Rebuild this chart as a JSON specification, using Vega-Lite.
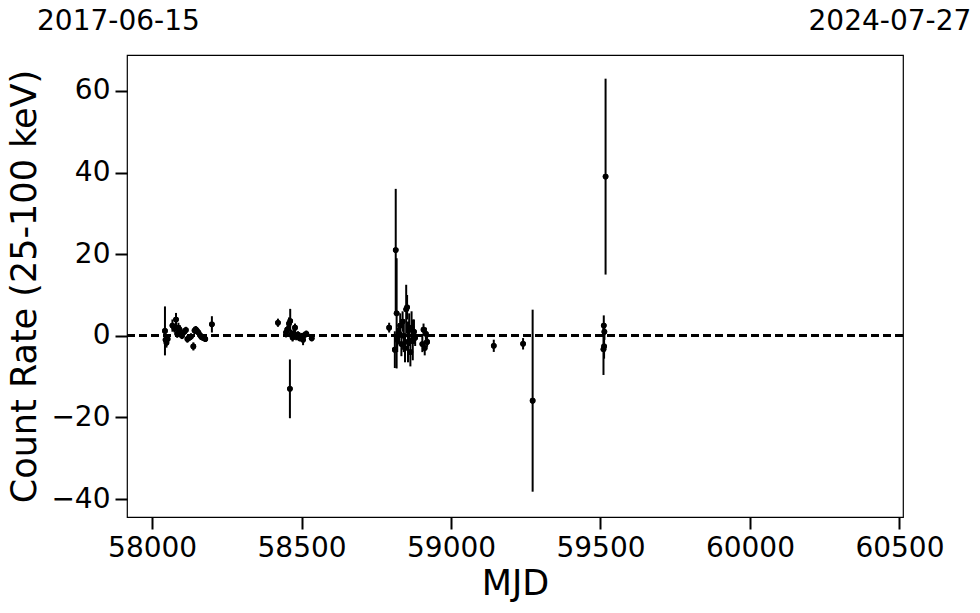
{
  "$schema": "https://vega.github.io/schema/vega-lite/v6.json",
  "width": 776,
  "height": 462,
  "autosize": {"type": "none"},
  "padding": {"left": 127, "top": 55, "right": 77, "bottom": 96},
  "background": "white",
  "config": {
    "font": "DejaVu Sans",
    "view": {"stroke": "black", "strokeWidth": 1.2},
    "axis": {
      "labelFont": "DejaVu Sans",
      "titleFont": "DejaVu Sans",
      "labelFontSize": 28,
      "titleFontSize": 35,
      "labelColor": "black",
      "titleColor": "black",
      "titleFontWeight": "normal",
      "tickColor": "black",
      "tickWidth": 2,
      "tickSize": 12,
      "domain": false,
      "grid": false,
      "labelFlush": false,
      "labelOverlap": false
    }
  },
  "resolve": {"axis": {"x": "independent"}},
  "data": {
    "values": [
      {"mjd": 58043, "rate": 1.2, "err": 6.0},
      {"mjd": 58045, "rate": -1.0, "err": 1.5},
      {"mjd": 58048, "rate": -1.7, "err": 1.2},
      {"mjd": 58052, "rate": -0.8, "err": 1.0},
      {"mjd": 58068, "rate": 2.5, "err": 1.5},
      {"mjd": 58075, "rate": 1.8, "err": 1.0},
      {"mjd": 58080, "rate": 4.0, "err": 1.6},
      {"mjd": 58084, "rate": 0.5, "err": 1.0},
      {"mjd": 58088, "rate": 2.0, "err": 1.2},
      {"mjd": 58092, "rate": 1.5, "err": 1.0},
      {"mjd": 58096, "rate": 0.6, "err": 1.0},
      {"mjd": 58100, "rate": 0.0, "err": 0.8},
      {"mjd": 58108, "rate": 1.0, "err": 0.8},
      {"mjd": 58113, "rate": 1.4, "err": 0.8},
      {"mjd": 58118, "rate": -0.8, "err": 0.9},
      {"mjd": 58124, "rate": -0.5, "err": 0.8},
      {"mjd": 58130, "rate": -0.2, "err": 0.8},
      {"mjd": 58138, "rate": -2.6, "err": 1.0},
      {"mjd": 58142, "rate": 1.3, "err": 0.9},
      {"mjd": 58146, "rate": 1.6, "err": 0.8},
      {"mjd": 58150, "rate": 1.2, "err": 0.8},
      {"mjd": 58155, "rate": 0.8, "err": 0.7},
      {"mjd": 58160, "rate": 0.2, "err": 0.7},
      {"mjd": 58165, "rate": -0.3, "err": 0.6},
      {"mjd": 58170, "rate": -0.5, "err": 0.6},
      {"mjd": 58178, "rate": -0.8, "err": 0.6},
      {"mjd": 58200, "rate": 2.8, "err": 2.0},
      {"mjd": 58421, "rate": 3.2, "err": 1.0},
      {"mjd": 58448, "rate": 0.8, "err": 1.2},
      {"mjd": 58452, "rate": 1.5, "err": 1.0},
      {"mjd": 58458, "rate": 3.0, "err": 1.5},
      {"mjd": 58462, "rate": 3.6, "err": 3.0},
      {"mjd": 58461, "rate": -13.0, "err": 7.2},
      {"mjd": 58466, "rate": 0.3, "err": 1.2},
      {"mjd": 58470, "rate": -0.4, "err": 1.0},
      {"mjd": 58474, "rate": 0.6, "err": 1.5},
      {"mjd": 58478, "rate": 2.0, "err": 1.0},
      {"mjd": 58482, "rate": -0.2, "err": 0.9},
      {"mjd": 58488, "rate": 0.3, "err": 0.8},
      {"mjd": 58494, "rate": -0.6, "err": 0.8},
      {"mjd": 58500, "rate": -0.3, "err": 1.0},
      {"mjd": 58505, "rate": -1.0, "err": 1.3},
      {"mjd": 58510, "rate": 0.2, "err": 0.8},
      {"mjd": 58516, "rate": 0.5, "err": 0.8},
      {"mjd": 58534, "rate": -0.6, "err": 0.8},
      {"mjd": 58793, "rate": 2.0, "err": 1.2},
      {"mjd": 58812, "rate": -3.4, "err": 4.5},
      {"mjd": 58815, "rate": 21.0, "err": 15.0},
      {"mjd": 58818, "rate": 5.5, "err": 13.5},
      {"mjd": 58820, "rate": -1.0, "err": 3.0},
      {"mjd": 58826, "rate": 0.5, "err": 2.5},
      {"mjd": 58830, "rate": 2.5, "err": 3.0},
      {"mjd": 58834, "rate": -2.0, "err": 3.0},
      {"mjd": 58838, "rate": 3.5, "err": 2.5},
      {"mjd": 58842, "rate": 0.0, "err": 4.0},
      {"mjd": 58846, "rate": -3.0, "err": 3.5},
      {"mjd": 58850, "rate": 6.5, "err": 6.0},
      {"mjd": 58853, "rate": 7.0, "err": 3.0},
      {"mjd": 58856, "rate": -1.5, "err": 5.0},
      {"mjd": 58860, "rate": 1.5, "err": 4.0},
      {"mjd": 58864, "rate": -4.0, "err": 3.5},
      {"mjd": 58868, "rate": 2.0, "err": 4.0},
      {"mjd": 58872, "rate": -1.0, "err": 5.0},
      {"mjd": 58876, "rate": 1.0, "err": 3.0},
      {"mjd": 58880, "rate": -0.5, "err": 2.0},
      {"mjd": 58904, "rate": -2.0, "err": 2.0},
      {"mjd": 58908, "rate": 1.5, "err": 1.5},
      {"mjd": 58912, "rate": -3.0, "err": 1.8},
      {"mjd": 58916, "rate": 0.5, "err": 1.5},
      {"mjd": 58920, "rate": -1.5, "err": 1.2},
      {"mjd": 59143, "rate": -2.45, "err": 1.5},
      {"mjd": 59241, "rate": -1.96, "err": 1.4},
      {"mjd": 59273, "rate": -15.9, "err": 22.3},
      {"mjd": 59510, "rate": -3.3, "err": 6.3},
      {"mjd": 59511, "rate": 2.5, "err": 2.5},
      {"mjd": 59512, "rate": -2.6, "err": 3.0},
      {"mjd": 59513, "rate": 1.0, "err": 2.0},
      {"mjd": 59517, "rate": 39.0, "err": 24.0}
    ]
  },
  "layer": [
    {
      "mark": {"type": "point", "filled": true, "color": "black", "opacity": 1, "size": 32},
      "encoding": {
        "x": {
          "field": "mjd",
          "type": "quantitative",
          "title": "MJD",
          "scale": {"domain": [57916, 60512], "nice": false, "zero": false},
          "axis": {
            "orient": "bottom",
            "values": [58000, 58500, 59000, 59500, 60000, 60500],
            "format": "d",
            "labelPadding": 5,
            "titlePadding": 4
          }
        },
        "y": {
          "field": "rate",
          "type": "quantitative",
          "title": "Count Rate (25-100 keV)",
          "scale": {"domain": [-44.4, 68.8], "nice": false, "zero": false},
          "axis": {
            "values": [-40, -20, 0, 20, 40, 60],
            "format": "d",
            "labelPadding": 5,
            "titlePadding": 8
          }
        }
      }
    },
    {
      "mark": {"type": "rule", "color": "black", "strokeWidth": 2, "strokeDash": [8, 4]},
      "encoding": {"y": {"datum": 0, "type": "quantitative", "title": "Count Rate (25-100 keV)"}}
    },
    {
      "mark": {"type": "errorbar", "color": "black", "thickness": 2, "ticks": false},
      "encoding": {
        "x": {"field": "mjd", "type": "quantitative", "title": "MJD", "axis": null},
        "y": {"field": "rate", "type": "quantitative", "title": "Count Rate (25-100 keV)"},
        "yError": {"field": "err"}
      }
    },
    {
      "mark": {"type": "point", "filled": true, "color": "black", "opacity": 1, "size": 32},
      "encoding": {
        "x": {
          "field": "mjd",
          "type": "quantitative",
          "axis": {
            "orient": "top",
            "title": null,
            "values": [57919, 60500],
            "labelExpr": "datum.value < 59000 ? '2017-06-15' : '2024-07-27'",
            "ticks": false,
            "labelPadding": 20,
            "labelOffset": -10
          }
        },
        "y": {"field": "rate", "type": "quantitative", "title": "Count Rate (25-100 keV)"}
      }
    }
  ]
}
